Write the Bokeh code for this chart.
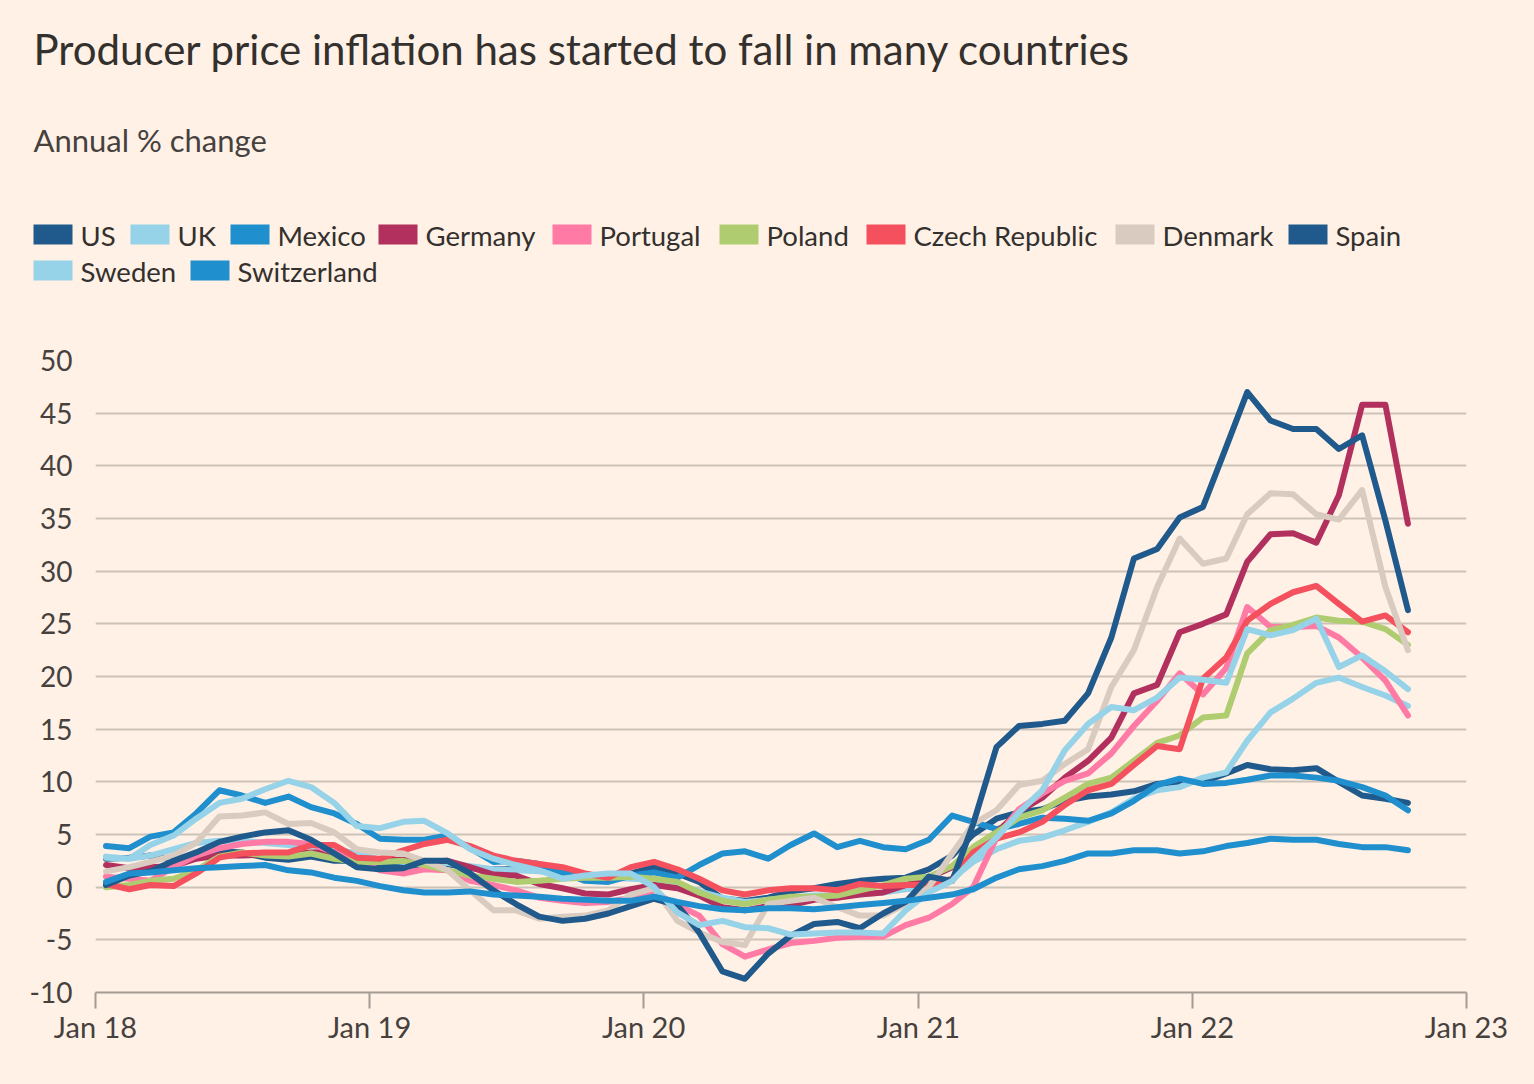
import datetime as dt
from bokeh.plotting import figure
from bokeh.layouts import column
from bokeh.models import Range1d, FixedTicker, ColumnDataSource
from bokeh.core.properties import value
from bokeh.embed import file_html
from bokeh.resources import INLINE

# ---------------- data ----------------
# monthly observations Jan 2018 .. Oct 2022 (plotted mid-month)
months = [dt.datetime(2018 + i // 12, i % 12 + 1, 15) for i in range(58)]

countries = ["US", "UK", "Mexico", "Germany", "Portugal", "Poland",
             "Czech Republic", "Denmark", "Spain", "Sweden", "Switzerland"]

us = [2.7, 2.8, 3.0, 2.6, 3.1, 3.4, 3.3, 2.8, 2.6, 2.9, 2.5, 2.5,
      2.0, 1.9, 2.2, 2.2, 1.8, 1.7, 1.7, 1.8, 1.4, 1.1, 1.1, 1.3,
      1.9, 1.3, 0.5, -1.1, -1.3, -1.0, -0.4, -0.1, 0.3, 0.6, 0.8, 0.9,
      1.7, 3.0, 5.0, 6.5, 7.1, 7.4, 8.2, 8.6, 8.8, 9.1, 9.8, 10.0,
      10.0, 10.8, 11.6, 11.2, 11.1, 11.3, 10.0, 8.7, 8.4, 8.0]
uk = [2.8, 2.7, 3.0, 3.6, 4.2, 4.4, 4.4, 4.2, 4.0, 3.9, 3.6, 3.2,
      2.6, 2.4, 2.4, 2.3, 2.0, 1.7, 1.6, 1.5, 1.2, 1.0, 0.9, 0.8,
      0.7, 0.3, -0.4, -1.0, -1.4, -1.2, -1.0, -0.8, -0.8, -0.7, -0.5, -0.2,
      0.0, 0.8, 2.4, 3.6, 4.4, 4.7, 5.4, 6.2, 7.1, 8.4, 9.2, 9.5,
      10.4, 10.9, 13.9, 16.6, 17.9, 19.4, 19.9, 19.0, 18.2, 17.2]
mexico = [3.9, 3.7, 4.8, 5.2, 7.0, 9.2, 8.7, 8.0, 8.6, 7.6, 7.0, 6.0,
          4.6, 4.5, 4.5, 4.9, 3.7, 2.4, 2.5, 2.2, 1.4, 0.6, 0.5, 1.1,
          1.4, 0.9, 2.1, 3.2, 3.4, 2.7, 4.0, 5.1, 3.8, 4.4, 3.8, 3.6,
          4.5, 6.8, 6.2, 5.5, 6.0, 6.6, 6.5, 6.3, 7.0, 8.2, 9.7, 10.3,
          9.8, 9.9, 10.2, 10.6, 10.6, 10.4, 10.1, 9.5, 8.7, 7.3]
germany = [2.1, 1.8, 1.9, 2.0, 2.7, 3.0, 3.0, 3.1, 3.2, 3.3, 3.3, 2.7,
           2.6, 2.6, 2.4, 2.5, 1.9, 1.2, 1.1, 0.3, -0.1, -0.6, -0.7, -0.2,
           0.2, -0.1, -0.8, -1.9, -2.2, -1.8, -1.7, -1.2, -1.0, -0.7, -0.5, 0.2,
           0.9, 1.9, 3.7, 5.2, 7.2, 8.5, 10.4, 12.0, 14.2, 18.4, 19.2, 24.2,
           25.0, 25.9, 30.9, 33.5, 33.6, 32.7, 37.2, 45.8, 45.8, 34.5]
portugal = [1.0, 0.8, 0.6, 1.9, 3.0, 3.7, 4.1, 4.3, 4.3, 4.1, 3.3, 2.5,
            1.6, 1.3, 1.7, 1.6, 0.6, 0.2, -0.3, -1.0, -1.3, -1.5, -1.4, -1.0,
            -0.5, -1.7, -2.7, -5.4, -6.6, -5.9, -5.3, -5.1, -4.8, -4.7, -4.7, -3.6,
            -2.9, -1.6, 0.0, 4.7, 7.4, 8.9, 10.1, 10.8, 12.7, 15.3, 17.7, 20.3,
            18.3, 20.8, 26.6, 24.7, 24.7, 24.8, 23.7, 21.8, 19.6, 16.3]
poland = [0.0, 0.2, 0.6, 0.8, 1.6, 2.9, 3.3, 3.0, 2.9, 3.2, 2.7, 2.4,
          2.4, 2.5, 2.1, 1.6, 1.1, 0.8, 0.5, 0.6, 0.8, 0.9, 0.9, 1.0,
          0.8, 0.5, -0.5, -1.3, -1.6, -1.2, -0.9, -0.9, -0.8, -0.3, 0.2, 0.8,
          1.0, 2.0, 3.8, 5.2, 6.6, 7.3, 8.5, 9.8, 10.4, 12.0, 13.7, 14.4,
          16.1, 16.3, 22.2, 24.4, 24.9, 25.6, 25.3, 25.2, 24.5, 23.0]
czech = [0.3, -0.2, 0.2, 0.1, 1.3, 2.8, 3.2, 3.3, 3.3, 4.0, 4.0, 2.8,
         2.7, 3.5, 4.1, 4.5, 3.9, 3.0, 2.5, 2.2, 1.9, 1.3, 0.9, 1.9,
         2.4, 1.7, 0.8, -0.3, -0.7, -0.3, -0.1, -0.1, -0.3, 0.3, 0.1, 0.2,
         0.2, 0.8, 3.3, 4.6, 5.2, 6.2, 7.8, 9.2, 9.8, 11.6, 13.4, 13.1,
         19.8, 21.8, 25.3, 26.9, 28.0, 28.6, 26.9, 25.2, 25.8, 24.2]
denmark = [1.5, 1.9, 2.4, 3.0, 4.2, 6.7, 6.8, 7.1, 6.0, 6.1, 5.2, 3.6,
           3.3, 3.2, 2.5, 1.6, -0.3, -2.2, -2.2, -3.0, -2.8, -2.7, -2.2, -0.7,
           -0.1, -3.2, -4.3, -5.2, -5.5, -1.6, -1.3, -1.0, -1.9, -2.7, -2.7, -1.6,
           0.0, 3.2, 6.0, 7.3, 9.7, 10.1, 11.7, 13.1, 19.0, 22.5, 28.5, 33.1,
           30.7, 31.2, 35.4, 37.4, 37.3, 35.4, 34.9, 37.7, 28.5, 22.5]
spain = [0.2, 1.1, 1.5, 2.5, 3.3, 4.3, 4.8, 5.2, 5.4, 4.5, 3.2, 1.9,
         1.7, 1.8, 2.5, 2.5, 1.3, -0.3, -1.6, -2.8, -3.2, -3.0, -2.5, -1.8,
         -1.1, -1.7, -4.3, -8.0, -8.7, -6.3, -4.6, -3.5, -3.3, -3.9, -2.5, -1.4,
         1.0, 0.6, 6.0, 13.3, 15.3, 15.5, 15.8, 18.4, 23.7, 31.2, 32.1, 35.1,
         36.1, 41.8, 47.0, 44.3, 43.5, 43.5, 41.6, 42.9, 34.8, 26.3]
sweden = [2.9, 2.7, 4.0, 4.9, 6.5, 8.0, 8.4, 9.3, 10.1, 9.5, 8.0, 5.8,
          5.6, 6.2, 6.3, 5.1, 3.6, 2.7, 2.1, 1.6, 0.8, 1.1, 1.3, 1.3,
          0.0, -2.4, -3.6, -3.2, -3.8, -3.9, -4.5, -4.4, -4.3, -4.3, -4.4, -2.2,
          -0.5, 0.6, 2.7, 4.7, 7.1, 9.2, 13.0, 15.5, 17.1, 16.8, 18.0, 19.9,
          19.7, 19.4, 24.5, 23.9, 24.4, 25.5, 20.9, 22.0, 20.5, 18.8]
switzerland = [0.5, 1.3, 1.4, 1.6, 1.8, 1.9, 2.0, 2.1, 1.6, 1.4, 0.9, 0.6,
               0.1, -0.3, -0.5, -0.5, -0.4, -0.7, -0.8, -0.9, -1.1, -1.2, -1.3, -1.3,
               -0.9, -1.4, -1.8, -2.1, -2.2, -2.0, -2.0, -2.1, -1.9, -1.7, -1.5, -1.3,
               -1.0, -0.7, -0.2, 0.9, 1.7, 2.0, 2.5, 3.2, 3.2, 3.5, 3.5, 3.2,
               3.4, 3.9, 4.2, 4.6, 4.5, 4.5, 4.1, 3.8, 3.8, 3.5]

series = [us, uk, mexico, germany, portugal, poland, czech, denmark, spain, sweden, switzerland]

y_ticks = [-10, -5, 0, 5, 10, 15, 20, 25, 30, 35, 40, 45, 50]
y_tick_labels = ["-10", "-5", "0", "5", "10", "15", "20", "25", "30", "35", "40", "45", "50"]
x_tick_years = [2018, 2019, 2020, 2021, 2022, 2023]
x_tick_labels = ["Jan 18", "Jan 19", "Jan 20", "Jan 21", "Jan 22", "Jan 23"]

title_text = "Producer price inflation has started to fall in many countries"
subtitle_text = "Annual % change"

# ---------------- style ----------------
BG = "#fff1e5"
INK = "#33302e"
GREY_TXT = "#46413e"
FONT = "Lato"
colors = ["#205a8c", "#96d2e8", "#208fce", "#b1305e", "#ff7aa5", "#afcd70",
          "#f4505e", "#dacbc0", "#205a8c", "#96d2e8", "#208fce"]


def no_align(fig):
    try:
        fig.frame_align = False
    except Exception:
        pass
    try:
        fig.styles = {"background-color": BG}
    except Exception:
        pass


# ---------------- header figure (title, subtitle, legend) ----------------
HEAD_H = 300
head = figure(width=1534, height=HEAD_H, output_backend="svg", toolbar_location=None,
              x_range=Range1d(0, 1534), y_range=Range1d(HEAD_H, 0),
              min_border=0, x_axis_type=None, y_axis_type=None)
no_align(head)
head.grid.visible = False
head.outline_line_color = None
head.background_fill_color = BG
head.border_fill_color = BG

head.text(x=[33], y=[48], text=[title_text], text_font=value(FONT),
          text_font_size=value("42px"), text_color=INK, text_baseline="middle")
head.text(x=[33], y=[139], text=[subtitle_text], text_font=value(FONT),
          text_font_size=value("31px"), text_color=GREY_TXT, text_baseline="middle")

row1_left = [33, 130, 230, 378, 552, 719, 866, 1115, 1288]
row2_left = [33, 190]
sw_left = row1_left + row2_left
sw_mid = [234] * len(row1_left) + [270] * len(row2_left)
leg = ColumnDataSource(dict(
    left=sw_left, right=[v + 39 for v in sw_left],
    top=[m - 10 for m in sw_mid], bottom=[m + 10 for m in sw_mid],
    tx=[v + 47 for v in sw_left], ty=[m + 1 for m in sw_mid],
    name=countries, color=colors))
head.quad(left="left", right="right", top="top", bottom="bottom",
          fill_color="color", line_color=None, source=leg)
head.text(x="tx", y="ty", text="name", source=leg, text_font=value(FONT),
          text_font_size=value("27.5px"), text_color=INK, text_baseline="middle")

# ---------------- chart ----------------
def ms(y):
    return (dt.datetime(y, 1, 1) - dt.datetime(1970, 1, 1)).total_seconds() * 1000


p = figure(width=1534, height=1084 - HEAD_H, output_backend="svg", toolbar_location=None,
           x_axis_type="datetime",
           x_range=Range1d(dt.datetime(2018, 1, 1), dt.datetime(2023, 1, 1)),
           y_range=Range1d(-10, 50),
           min_border_left=95, min_border_right=68, min_border_top=60, min_border_bottom=92)
no_align(p)
p.background_fill_color = BG
p.border_fill_color = BG
p.outline_line_color = None

p.yaxis.ticker = FixedTicker(ticks=y_ticks)
p.yaxis.major_label_overrides = {t: lab for t, lab in zip(y_ticks, y_tick_labels)}
p.ygrid.ticker = FixedTicker(ticks=y_ticks)
p.ygrid.grid_line_color = "#cdc2b7"
p.ygrid.grid_line_width = 2
p.xgrid.visible = False
p.yaxis.axis_line_color = None
p.yaxis.major_tick_line_color = None
p.yaxis.major_tick_out = 0
p.yaxis.major_tick_in = 0
p.yaxis.minor_tick_line_color = None
p.yaxis.minor_tick_out = 0
p.yaxis.major_label_standoff = 23
p.yaxis.major_label_text_font = FONT
p.yaxis.major_label_text_font_size = "28px"
p.yaxis.major_label_text_color = GREY_TXT

xt = [ms(y) for y in x_tick_years]
p.xaxis.ticker = FixedTicker(ticks=xt)
p.xaxis.major_label_overrides = {int(t): lab for t, lab in zip(xt, x_tick_labels)}
p.xaxis.axis_line_color = "#a39b94"
p.xaxis.axis_line_width = 2
p.xaxis.major_tick_line_color = "#a39b94"
p.xaxis.major_tick_line_width = 2
p.xaxis.major_tick_in = 0
p.xaxis.major_tick_out = 16
p.xaxis.minor_tick_line_color = None
p.xaxis.minor_tick_out = 0
p.xaxis.major_label_standoff = 0
p.xaxis.major_label_text_font = FONT
p.xaxis.major_label_text_font_size = "29px"
p.xaxis.major_label_text_color = GREY_TXT

for name, vals, col in zip(countries, series, colors):
    p.line(months, vals, line_color=col, line_width=6,
           line_join="round", line_cap="round")

layout = column(head, p, spacing=0, styles={"background-color": BG})
open("out.html", "w").write(file_html(layout, INLINE))
